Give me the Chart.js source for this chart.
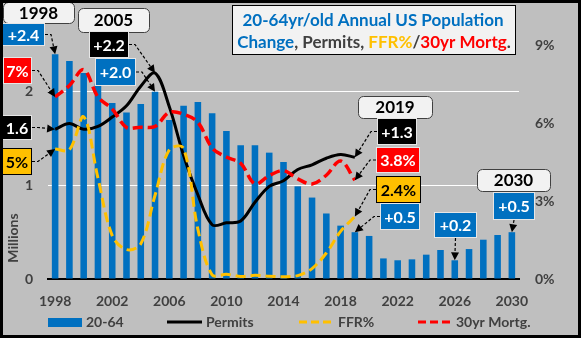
<!DOCTYPE html>
<html>
<head>
<meta charset="utf-8">
<script src="https://cdn.jsdelivr.net/npm/chart.js@4/dist/chart.umd.min.js"></script>
<style>
  html, body { margin: 0; padding: 0; background: #bfbfbf; }
  #wrap { width: 581px; height: 338px; }
</style>
</head>
<body>
<div id="wrap"><canvas id="c" width="581" height="338"></canvas></div>
<script>
// Categories
const years = ['1998','1999','2000','2001','2002','2003','2004','2005','2006','2007','2008',
  '2009','2010','2011','2012','2013','2014','2015','2016','2017','2018','2019','2020',
  '2021','2022','2023','2024','2025','2026','2027','2028','2029','2030'];
const tickYears = ['1998','2002','2006','2010','2014','2018','2022','2026','2030'];

// Annual change of the 20-64 population, millions
const popChange = [2.4, 2.33, 2.2, 2.09, 1.88, 1.78, 1.87, 2.0, 1.7, 1.85, 1.89,
  1.77, 1.58, 1.43, 1.43, 1.35, 1.25, 0.99, 0.87, 0.7, 0.57, 0.5, 0.46,
  0.22, 0.2, 0.21, 0.26, 0.31, 0.2, 0.32, 0.42, 0.47, 0.5];
// Building permits, millions
const permits = [1.6, 1.66, 1.6, 1.63, 1.73, 1.85, 2.06, 2.2, 1.84, 1.32, 0.9,
  0.58, 0.6, 0.62, 0.82, 0.99, 1.05, 1.17, 1.22, 1.29, 1.33, 1.3];
// Fed funds rate, %
const ffr = [5, 4.97, 6.24, 3.88, 1.67, 1.13, 1.35, 3.22, 4.97, 5.02, 1.92,
  0.16, 0.18, 0.1, 0.14, 0.11, 0.09, 0.13, 0.4, 1.0, 1.83, 2.4];
// 30yr mortgage rate, %
const mortgage = [7, 7.44, 8.05, 7.0, 6.54, 5.83, 5.84, 5.87, 6.41, 6.34, 6.03,
  5.04, 4.69, 4.45, 3.66, 3.98, 4.17, 3.85, 3.65, 3.99, 4.54, 3.8];

const leftTicks = [0, 1, 2];
const rightTicks = [0, 3, 6, 9];

const FONT = 'Lato, "Open Sans", sans-serif';
const BLUE = '#0070C0', GOLD = '#FFC000', RED = '#FF0000', GREY = '#404040';

const seriesData = { pop: popChange, permits: permits, ffr: ffr, mortgage: mortgage };
const seriesAxis = { pop: 'y', permits: 'y', ffr: 'y1', mortgage: 'y1' };
const formats = {
  plus: v => '+' + v.toFixed(1),
  num: v => v.toFixed(1),
  pct0: v => v.toFixed(0) + '%',
  pct1: v => v.toFixed(1) + '%'
};

// Year header boxes
const headers = [
  { year: '1998', box: [3, 2, 71, 21] },
  { year: '2005', box: [78, 8, 71, 24] },
  { year: '2019', box: [358, 96, 74, 22] },
  { year: '2030', box: [477, 169, 73, 22] }
];

// Value callouts with arrows to the marks
const callouts = [
  { series: 'pop', year: '1998', fmt: 'plus', box: [2, 23, 43, 23], fill: BLUE, ink: '#fff', side: 'right' },
  { series: 'mortgage', year: '1998', fmt: 'pct0', box: [3, 57, 29, 27], fill: RED, ink: '#fff', side: 'right' },
  { series: 'permits', year: '1998', fmt: 'num', box: [2, 115, 30, 25], fill: '#000', ink: '#fff', side: 'right' },
  { series: 'ffr', year: '1998', fmt: 'pct0', box: [2, 148, 30, 27], fill: GOLD, ink: '#000', side: 'right', edge: '#000' },
  { series: 'permits', year: '2005', fmt: 'plus', box: [89, 31, 40, 27], fill: '#000', ink: '#fff', side: 'right' },
  { series: 'pop', year: '2005', fmt: 'plus', box: [95, 58, 41, 28], fill: BLUE, ink: '#fff', side: 'right' },
  { series: 'permits', year: '2019', fmt: 'plus', box: [377, 118, 40, 27], fill: '#000', ink: '#fff', side: 'left' },
  { series: 'mortgage', year: '2019', fmt: 'pct1', box: [376, 147, 44, 26], fill: RED, ink: '#fff', side: 'left' },
  { series: 'ffr', year: '2019', fmt: 'pct1', box: [376, 176, 45, 27], fill: GOLD, ink: '#000', side: 'left', edge: '#000' },
  { series: 'pop', year: '2019', fmt: 'plus', box: [380, 203, 40, 27], fill: BLUE, ink: '#fff', side: 'left' },
  { series: 'pop', year: '2026', fmt: 'plus', box: [434, 212, 43, 26], fill: BLUE, ink: '#fff', side: 'bottom' },
  { series: 'pop', year: '2030', fmt: 'plus', box: [493, 192, 42, 28], fill: BLUE, ink: '#fff', side: 'bottom' }
];

function drawArrow(ctx, pts) {
  const n = pts.length;
  const [tx, ty] = pts[n - 1];
  const [px, py] = pts[n - 2];
  const ang = Math.atan2(ty - py, tx - px);
  const L = 8, W = 4;
  const bx = tx - L * Math.cos(ang), by = ty - L * Math.sin(ang);
  ctx.save();
  ctx.strokeStyle = '#000';
  ctx.lineWidth = 1.2;
  ctx.setLineDash([3, 2]);
  ctx.beginPath();
  ctx.moveTo(pts[0][0], pts[0][1]);
  for (let i = 1; i < n - 1; i++) ctx.lineTo(pts[i][0], pts[i][1]);
  ctx.lineTo(bx, by);
  ctx.stroke();
  ctx.setLineDash([]);
  ctx.fillStyle = '#000';
  ctx.beginPath();
  ctx.moveTo(tx, ty);
  ctx.lineTo(bx + W * Math.sin(ang), by - W * Math.cos(ang));
  ctx.lineTo(bx - W * Math.sin(ang), by + W * Math.cos(ang));
  ctx.closePath();
  ctx.fill();
  ctx.restore();
}

function roundRect(ctx, x, y, w, h, r) {
  ctx.beginPath();
  ctx.moveTo(x + r, y);
  ctx.arcTo(x + w, y, x + w, y + h, r);
  ctx.arcTo(x + w, y + h, x, y + h, r);
  ctx.arcTo(x, y + h, x, y, r);
  ctx.arcTo(x, y, x + w, y, r);
  ctx.closePath();
}

function drawRuns(ctx, runs, cx, y, size) {
  ctx.font = 'bold ' + size + 'px ' + FONT;
  const total = runs.reduce((s, r) => s + ctx.measureText(r[0]).width, 0);
  let x = cx - total / 2;
  ctx.textAlign = 'left';
  ctx.textBaseline = 'middle';
  runs.forEach(([t, c]) => {
    ctx.fillStyle = c;
    ctx.fillText(t, x, y);
    x += ctx.measureText(t).width;
  });
}

const decor = {
  id: 'decor',
  beforeDraw(chart) {
    const ctx = chart.ctx;
    ctx.save();
    ctx.fillStyle = '#bfbfbf';
    ctx.fillRect(0, 0, chart.width, chart.height);
    ctx.restore();
  },
  afterDraw(chart) {
    const ctx = chart.ctx;
    const xs = chart.scales.x;
    ctx.save();

    // Title box
    ctx.fillStyle = '#f2f2f2';
    ctx.fillRect(232, 5, 284, 50);
    ctx.strokeStyle = '#000';
    ctx.lineWidth = 1;
    ctx.strokeRect(232.5, 5.5, 283, 49);
    drawRuns(ctx, [['20-64yr/old Annual US Population', BLUE]], 373, 21, 17);
    drawRuns(ctx, [['Change', BLUE], [', Permits, ', GREY], ['FFR%', GOLD], ['/', GREY],
      ['30yr Mortg', RED], ['.', GREY]], 374, 43, 17);

    // Left axis title
    ctx.save();
    ctx.translate(13, 238);
    ctx.rotate(-Math.PI / 2);
    ctx.font = 'bold 14px ' + FONT;
    ctx.fillStyle = GREY;
    ctx.textAlign = 'center';
    ctx.textBaseline = 'middle';
    ctx.fillText('Millions', 0, 0);
    ctx.restore();

    // Legend
    const ds = chart.data.datasets;
    const ly = 322;
    ctx.font = 'bold 14px ' + FONT;
    ctx.textAlign = 'left';
    ctx.textBaseline = 'middle';
    ctx.fillStyle = BLUE;
    ctx.fillRect(48, 318, 34, 9);
    ctx.fillStyle = GREY;
    ctx.fillText(ds[0].label, 86, ly);
    const legendLine = (x0, x1, color, dash, tx, label) => {
      ctx.save();
      ctx.strokeStyle = color;
      ctx.lineWidth = 3;
      ctx.setLineDash(dash);
      ctx.beginPath();
      ctx.moveTo(x0, ly);
      ctx.lineTo(x1, ly);
      ctx.stroke();
      ctx.restore();
      ctx.fillStyle = GREY;
      ctx.fillText(label, tx, ly);
    };
    legendLine(167, 202, '#000', [], 206, ds[1].label);
    legendLine(299, 333, GOLD, [8, 4], 338, ds[2].label);
    legendLine(418, 451, RED, [8, 4], 456, ds[3].label);

    // Year headers
    headers.forEach(h => {
      const [x, y, w, hh] = h.box;
      roundRect(ctx, x + 0.5, y + 0.5, w, hh, 5);
      ctx.fillStyle = '#f2f2f2';
      ctx.fill();
      ctx.strokeStyle = '#404040';
      ctx.lineWidth = 1;
      ctx.stroke();
      ctx.font = 'bold 17px ' + FONT;
      ctx.fillStyle = '#000';
      ctx.textAlign = 'center';
      ctx.textBaseline = 'middle';
      ctx.fillText(h.year, x + w / 2, y + hh / 2 + 1);
    });

    // Callouts
    callouts.forEach(c => {
      const idx = years.indexOf(c.year);
      const v = seriesData[c.series][idx];
      const tx = xs.getPixelForValue(idx);
      const ty = chart.scales[seriesAxis[c.series]].getPixelForValue(v);
      const [x, y, w, h] = c.box;
      let pts;
      if (c.side === 'right') pts = [[x + w, y + h / 2], [x + w + 6, y + h / 2], [tx, ty]];
      else if (c.side === 'left') pts = [[x, y + h / 2], [x - 6, y + h / 2], [tx, ty]];
      else pts = [[x + w / 2, y + h], [tx, ty]];
      drawArrow(ctx, pts);
      ctx.fillStyle = c.fill;
      ctx.fillRect(x, y, w, h);
      ctx.strokeStyle = c.edge || '#e6e6e6';
      ctx.lineWidth = 1;
      ctx.strokeRect(x + 0.5, y + 0.5, w - 1, h - 1);
      ctx.font = 'bold 16px ' + FONT;
      ctx.fillStyle = c.ink;
      ctx.textAlign = 'center';
      ctx.textBaseline = 'middle';
      ctx.fillText(formats[c.fmt](v), x + w / 2, y + h / 2 + 1);
    });

    // Outer frame
    ctx.strokeStyle = '#000';
    ctx.lineWidth = 3;
    ctx.setLineDash([]);
    ctx.strokeRect(1.5, 1.5, chart.width - 3, chart.height - 3);
    ctx.restore();
  }
};

const lineBase = { type: 'line', pointRadius: 0, pointHoverRadius: 0, tension: 0.35, fill: false, borderCapStyle: 'butt' };

new Chart(document.getElementById('c'), {
  type: 'bar',
  data: {
    labels: years,
    datasets: [
      { label: '20-64', data: popChange, backgroundColor: BLUE, borderWidth: 0,
        barPercentage: 0.46, categoryPercentage: 1, yAxisID: 'y', order: 4 },
      Object.assign({ label: 'Permits', data: permits, borderColor: '#000', borderWidth: 3,
        yAxisID: 'y', order: 3 }, lineBase),
      Object.assign({ label: 'FFR%', data: ffr, borderColor: GOLD, borderWidth: 3,
        borderDash: [10, 5], yAxisID: 'y1', order: 2 }, lineBase),
      Object.assign({ label: '30yr Mortg.', data: mortgage, borderColor: RED, borderWidth: 3.5,
        borderDash: [10, 5], yAxisID: 'y1', order: 1 }, lineBase)
    ]
  },
  options: {
    responsive: false,
    animation: false,
    events: [],
    layout: { padding: { top: 45, left: 0, right: 0, bottom: 0 } },
    plugins: { legend: { display: false }, tooltip: { enabled: false }, title: { display: false } },
    scales: {
      x: {
        offset: true,
        grid: { display: false, drawTicks: false },
        border: { display: true, color: '#000', width: 2 },
        ticks: {
          autoSkip: false, maxRotation: 0, padding: 14, color: GREY,
          font: { family: FONT, size: 14, weight: 'bold' },
          callback(v, i) { const y = years[i]; return tickYears.includes(y) ? y : ''; }
        },
        afterFit(s) { s.height = 59; }
      },
      y: {
        position: 'left', min: 0, max: 2.5,
        afterBuildTicks(s) { s.ticks = leftTicks.map(v => ({ value: v })); },
        grid: { drawTicks: false, lineWidth: 1,
          color: c => (c.tick && c.tick.value === 0) ? 'rgba(0,0,0,0)' : '#ffffff' },
        border: { display: false },
        ticks: { padding: 15, color: GREY, font: { family: FONT, size: 14, weight: 'bold' } },
        afterFit(s) { s.width = 48; }
      },
      y1: {
        position: 'right', min: 0, max: 9,
        afterBuildTicks(s) { s.ticks = rightTicks.map(v => ({ value: v })); },
        grid: { display: false, drawTicks: false },
        border: { display: false },
        ticks: { padding: 16, color: GREY, font: { family: FONT, size: 14, weight: 'bold' },
          callback: v => v + '%' },
        afterFit(s) { s.width = 62; }
      }
    }
  },
  plugins: [decor]
});
</script>
</body>
</html>
